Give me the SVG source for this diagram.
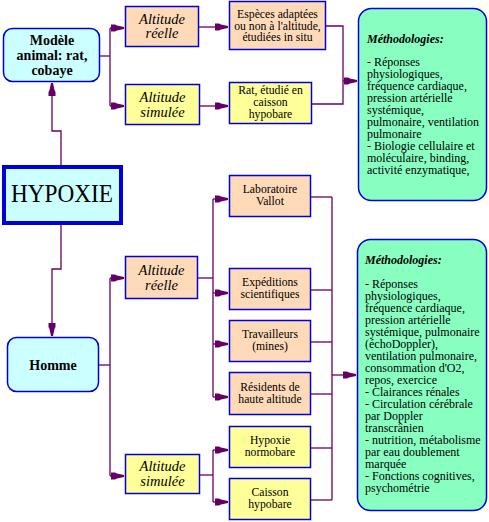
<svg xmlns="http://www.w3.org/2000/svg" width="489" height="522" viewBox="0 0 489 522" font-family="'Liberation Serif', 'DejaVu Serif', serif">
<defs>
<marker id="arr" viewBox="-14 -5 15 10" markerWidth="15" markerHeight="10" refX="0" refY="0" orient="auto" markerUnits="userSpaceOnUse">
<path d="M0,-1 L-7,-2.5 L-9,-3.5 L-13,-3.5 L-13,3.5 L-9,3.5 L-7,2.5 L0,1 Z" fill="#660066"/>
</marker>
</defs>
<style>
text{font-family:'Liberation Serif','DejaVu Serif',serif;fill:#000;text-anchor:middle}
.b{fill:#ccffff;stroke:#0000dd;stroke-width:1.5}
.p{fill:#ffdab9;stroke:#0000dd;stroke-width:1.5}
.y{fill:#ffff99;stroke:#0000dd;stroke-width:1.5}
.g{fill:#88ffc0;stroke:#0000dd;stroke-width:1.5}
.s{font-size:11.7px}
.alt{font-size:14.5px;font-style:italic}
.bold{font-size:14px;font-weight:bold}
.m{font-size:12px;text-anchor:start}
.mt{font-size:12px;font-weight:bold;font-style:italic;text-anchor:start}
.c polyline{fill:none;stroke:#660066;stroke-width:1.3}
</style>
<rect width="489" height="522" fill="#fff"/>
<g class="c" id="connectors">
<polyline points="61,165 61,131 52,131 52,83" marker-end="url(#arr)"/>
<polyline points="61,225 61,269 52,269 52,336" marker-end="url(#arr)"/>
<polyline points="100,56 110,56"/>
<polyline points="110,28 110,106"/>
<polyline points="110,28 124,28" marker-end="url(#arr)"/>
<polyline points="110,106 124,106" marker-end="url(#arr)"/>
<polyline points="199,27 228,27" marker-end="url(#arr)"/>
<polyline points="200,106 228,106" marker-end="url(#arr)"/>
<polyline points="326,26 343,26 343,104 312,104"/>
<polyline points="343,81 357,81" marker-end="url(#arr)"/>
<polyline points="99,365 110,365"/>
<polyline points="110,278 110,476"/>
<polyline points="110,278 124,278" marker-end="url(#arr)"/>
<polyline points="110,476 124,476" marker-end="url(#arr)"/>
<polyline points="198,278 213,278"/>
<polyline points="213,199 213,397"/>
<polyline points="213,199 228,199" marker-end="url(#arr)"/>
<polyline points="213,293 228,293" marker-end="url(#arr)"/>
<polyline points="213,344 228,344" marker-end="url(#arr)"/>
<polyline points="213,397 228,397" marker-end="url(#arr)"/>
<polyline points="200,475 213,475"/>
<polyline points="213,450 213,502"/>
<polyline points="213,450 228,450" marker-end="url(#arr)"/>
<polyline points="213,502 228,502" marker-end="url(#arr)"/>
<polyline points="311,197 332,197"/>
<polyline points="311,290 332,290"/>
<polyline points="311,342 332,342"/>
<polyline points="311,394 332,394"/>
<polyline points="311,448 332,448"/>
<polyline points="311,500 332,500"/>
<polyline points="332,197 332,500"/>
<polyline points="332,375 356,375" marker-end="url(#arr)"/>
</g>
<g id="modele">
<rect class="b" x="3.5" y="28.5" width="96" height="53" rx="9"/>
<text class="bold" x="52" y="45">Modèle</text>
<text class="bold" x="52" y="60">animal: rat,</text>
<text class="bold" x="52" y="75">cobaye</text>
</g>
<g id="hypoxie">
<rect x="4" y="167" width="117" height="56" fill="#ccffff" stroke="#0000dd" stroke-width="4"/>
<text x="62" y="202" font-size="25" textLength="102" lengthAdjust="spacingAndGlyphs">HYPOXIE</text>
</g>
<g id="homme">
<rect class="b" x="7.5" y="337.5" width="91" height="54" rx="9"/>
<text class="bold" x="53" y="370">Homme</text>
</g>
<g id="alt-reelle-1">
<rect class="p" x="125.5" y="6.5" width="73" height="40"/>
<text class="alt" x="162" y="23.5">Altitude</text>
<text class="alt" x="162" y="38">réelle</text>
</g>
<g id="alt-simulee-1">
<rect class="y" x="125.5" y="84.5" width="74" height="40"/>
<text class="alt" x="162.5" y="102">Altitude</text>
<text class="alt" x="162.5" y="117">simulée</text>
</g>
<g id="especes">
<rect class="p" x="229.5" y="1.5" width="96" height="48"/>
<text class="s" x="277.5" y="18">Espèces adaptées</text>
<text class="s" x="277.5" y="29.5">ou non à l'altitude,</text>
<text class="s" x="277.5" y="41">étudiées in situ</text>
</g>
<g id="rat">
<rect class="y" x="229.5" y="82.5" width="82" height="41"/>
<text class="s" x="270.5" y="94">Rat, étudié en</text>
<text class="s" x="270.5" y="106">caisson</text>
<text class="s" x="270.5" y="118">hypobare</text>
</g>
<g id="methodo-1">
<rect class="g" x="358.5" y="8.5" width="128" height="192" rx="13"/>
<text class="mt" x="367" y="43">Méthodologies:</text>
<text class="m" x="367" y="66">- Réponses</text>
<text class="m" x="367" y="78">physiologiques,</text>
<text class="m" x="367" y="90">fréquence cardiaque,</text>
<text class="m" x="367" y="102">pression artérielle</text>
<text class="m" x="367" y="114">systémique,</text>
<text class="m" x="367" y="126">pulmonaire, ventilation</text>
<text class="m" x="367" y="138">pulmonaire</text>
<text class="m" x="367" y="150">- Biologie cellulaire et</text>
<text class="m" x="367" y="162">moléculaire, binding,</text>
<text class="m" x="367" y="174">activité enzymatique,</text>
</g>
<g id="alt-reelle-2">
<rect class="p" x="125.5" y="256.5" width="72" height="42"/>
<text class="alt" x="161.5" y="274.5">Altitude</text>
<text class="alt" x="161.5" y="289.5">réelle</text>
</g>
<g id="alt-simulee-2">
<rect class="y" x="125.5" y="454.5" width="74" height="39"/>
<text class="alt" x="162.5" y="470.5">Altitude</text>
<text class="alt" x="162.5" y="485.5">simulée</text>
</g>
<g id="vallot">
<rect class="p" x="229.5" y="175.5" width="81" height="41"/>
<text class="s" x="270" y="193">Laboratoire</text>
<text class="s" x="270" y="205">Vallot</text>
</g>
<g id="expeditions">
<rect class="p" x="229.5" y="268.5" width="81" height="41"/>
<text class="s" x="270" y="286">Expéditions</text>
<text class="s" x="270" y="298">scientifiques</text>
</g>
<g id="travailleurs">
<rect class="p" x="229.5" y="320.5" width="81" height="41"/>
<text class="s" x="270" y="338">Travailleurs</text>
<text class="s" x="270" y="350">(mines)</text>
</g>
<g id="residents">
<rect class="p" x="229.5" y="372.5" width="81" height="42"/>
<text class="s" x="270" y="391">Résidents de</text>
<text class="s" x="270" y="403">haute altitude</text>
</g>
<g id="normobare">
<rect class="y" x="229.5" y="426.5" width="81" height="41"/>
<text class="s" x="270" y="444">Hypoxie</text>
<text class="s" x="270" y="456">normobare</text>
</g>
<g id="caisson">
<rect class="y" x="229.5" y="478.5" width="81" height="41"/>
<text class="s" x="270" y="496">Caisson</text>
<text class="s" x="270" y="508">hypobare</text>
</g>
<g id="methodo-2">
<rect class="g" x="357.5" y="239.5" width="129" height="271" rx="13"/>
<text class="mt" x="365" y="264">Méthodologies:</text>
<text class="m" x="365" y="288">- Réponses</text>
<text class="m" x="365" y="300">physiologiques,</text>
<text class="m" x="365" y="312">fréquence cardiaque,</text>
<text class="m" x="365" y="324">pression artérielle</text>
<text class="m" x="365" y="336">systémique, pulmonaire</text>
<text class="m" x="365" y="348">(échoDoppler),</text>
<text class="m" x="365" y="360">ventilation pulmonaire,</text>
<text class="m" x="365" y="372">consommation d'O2,</text>
<text class="m" x="365" y="384">repos, exercice</text>
<text class="m" x="365" y="396">- Clairances rénales</text>
<text class="m" x="365" y="408">- Circulation cérébrale</text>
<text class="m" x="365" y="420">par Doppler</text>
<text class="m" x="365" y="432">transcrânien</text>
<text class="m" x="365" y="444">- nutrition, métabolisme</text>
<text class="m" x="365" y="456">par eau doublement</text>
<text class="m" x="365" y="468">marquée</text>
<text class="m" x="365" y="480">- Fonctions cognitives,</text>
<text class="m" x="365" y="492">psychométrie</text>
</g>
</svg>
